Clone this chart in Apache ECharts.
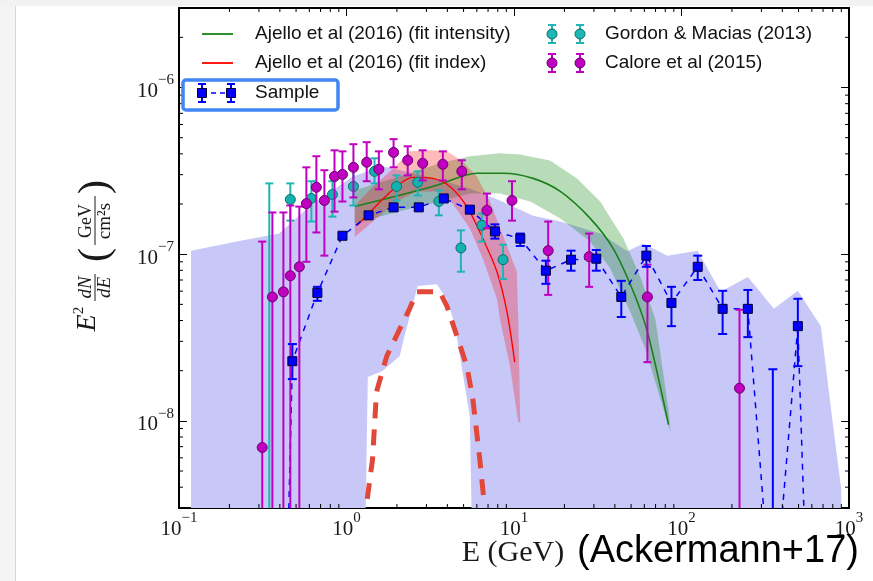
<!DOCTYPE html>
<html>
<head>
<meta charset="utf-8">
<script src="https://cdn.jsdelivr.net/npm/echarts@6/dist/echarts.min.js"></script>
<style>
  html, body { margin: 0; padding: 0; background: #fff; }
  #chart { width: 873px; height: 581px; }
</style>
</head>
<body>
<div id="chart"></div>
<script>
// ---------------- data ----------------
const xMinor = [];
[0.1, 1, 10, 100].forEach(d => { for (let k = 2; k <= 9; k++) xMinor.push(k * d); });
const yMinor = [4e-9, 5e-9, 6e-9, 7e-9, 8e-9, 9e-9,
  2e-8, 3e-8, 4e-8, 5e-8, 6e-8, 7e-8, 8e-8, 9e-8,
  2e-7, 3e-7, 4e-7, 5e-7, 6e-7, 7e-7, 8e-7, 9e-7, 2e-6];

// Sample (blue squares); values far below the axis run off the bottom
const sampleE    = [0.336, 0.475, 0.67, 0.946, 1.355, 1.91, 2.70, 3.81, 5.45, 7.69, 10.9, 15.5, 21.9, 31.0, 43.7, 61.7, 87.1, 125, 176, 249, 351, 495, 699];
const sampleFlux = [1e-14, 2.28e-8, 5.86e-8, 1.29e-7, 1.71e-7, 1.91e-7, 1.91e-7, 2.16e-7, 1.85e-7, 1.37e-7, 1.24e-7, 7.96e-8, 9.27e-8, 9.4e-8, 5.54e-8, 9.8e-8, 5.1e-8, 8.4e-8, 4.7e-8, 4.7e-8, 6e-10, 3.7e-8, 1e-12];
const sampleLo   = [null, 1.78e-8, 5.25e-8, 1.25e-7, 1.66e-7, 1.86e-7, 1.86e-7, 2.1e-7, 1.8e-7, 1.24e-7, 1.12e-7, 6.64e-8, 7.96e-8, 7.96e-8, 4.2e-8, 8.4e-8, 3.7e-8, 7.0e-8, 3.32e-8, 3.18e-8, 1e-12, 2.13e-8, null];
const sampleHi   = [null, 2.89e-8, 6.37e-8, 1.33e-7, 1.76e-7, 1.96e-7, 1.96e-7, 2.22e-7, 1.9e-7, 1.51e-7, 1.33e-7, 9.14e-8, 1.05e-7, 1.06e-7, 6.92e-8, 1.12e-7, 6.37e-8, 9.8e-8, 6.03e-8, 6.1e-8, 2.04e-8, 5.4e-8, null];

// Gordon & Macias (2013)
const gordonE    = [0.346, 0.462, 0.617, 0.824, 1.10, 1.47, 1.99, 2.66, 3.56, 4.82, 6.43, 8.60];
const gordonFlux = [1e-12, 2.13e-7, 2.16e-7, 2.28e-7, 2.55e-7, 3.14e-7, 2.55e-7, 2.7e-7, 2.07e-7, 1.09e-7, 1.49e-7, 9.27e-8];
const gordonLo   = [1e-12, 1.59e-7, 1.57e-7, 1.68e-7, 1.96e-7, 2.66e-7, 2.1e-7, 2.25e-7, 1.71e-7, 7.85e-8, 1.19e-7, 7.1e-8];
const gordonHi   = [2.66e-7, 2.66e-7, 2.74e-7, 2.74e-7, 3.27e-7, 3.76e-7, 2.97e-7, 3.14e-7, 2.42e-7, 1.39e-7, 1.75e-7, 1.14e-7];

// Calore et al (2015)
const caloreE    = [0.314, 0.361, 0.42, 0.462, 0.523, 0.576, 0.661, 0.738, 0.848, 0.946, 1.10, 1.32, 1.56, 1.91, 2.32, 2.85, 3.76, 4.88, 6.89, 9.73, 16.0, 28.1, 62.6, 222];
const caloreFlux = [6.92e-9, 5.54e-8, 5.94e-8, 7.42e-8, 8.4e-8, 2.01e-7, 2.52e-7, 2.1e-7, 2.93e-7, 3.01e-7, 3.32e-7, 3.56e-7, 3.23e-7, 4.08e-7, 3.66e-7, 3.51e-7, 3.46e-7, 3.14e-7, 1.83e-7, 2.1e-7, 1.05e-7, 9.66e-8, 5.54e-8, 1.57e-8];
const caloreLo   = [1e-12, 1e-12, 1e-12, 1e-12, 1e-12, 9.0e-8, 1.35e-7, 9.8e-8, 1.8e-7, 2.07e-7, 2.19e-7, 2.74e-7, 2.45e-7, 3.32e-7, 2.97e-7, 2.77e-7, 2.77e-7, 2.45e-7, 1.43e-7, 1.59e-7, 5.7e-8, 6.37e-8, 2.25e-8, 1e-12];
const caloreHi   = [1.19e-7, 1.78e-7, 1.78e-7, 1.96e-7, 1.93e-7, 3.32e-7, 3.87e-7, 3.19e-7, 4.2e-7, 4.14e-7, 4.57e-7, 4.7e-7, 4.14e-7, 4.9e-7, 4.44e-7, 4.2e-7, 4.14e-7, 3.66e-7, 2.31e-7, 2.74e-7, 1.57e-7, 1.33e-7, 8.65e-8, 4.64e-8];

// Ajello et al (2016) fit intensity (green) and its band
const fitIntE    = [1.12, 2.16, 3.46, 6.0, 8.6, 13, 18.9, 28.5, 39.1, 51.6, 62.6, 83.6];
const fitIntFlux = [1.93e-7, 2.28e-7, 2.59e-7, 3.06e-7, 3.06e-7, 2.85e-7, 2.38e-7, 1.64e-7, 1.08e-7, 5.95e-8, 3.41e-8, 9.5e-9];
const fitIntUpper = [[1.12, 2.42e-7], [2.16, 2.97e-7], [3.6, 3.51e-7], [5.45, 3.87e-7], [8.24, 4.03e-7], [10.9, 3.97e-7], [16.4, 3.65e-7], [23.8, 2.85e-7], [32.7, 2.07e-7], [45, 1.24e-7], [56.8, 7.3e-8], [69.8, 4.08e-8], [83.6, 1.17e-8], [86, 8.5e-9]];
const fitIntLower = [[1.12, 1.53e-7], [2.16, 1.83e-7], [3.6, 2.07e-7], [5.45, 2.31e-7], [8.24, 2.31e-7], [12.5, 2.07e-7], [18.9, 1.64e-7], [28.5, 1.19e-7], [37.6, 8.2e-8], [49.5, 4.5e-8], [60.9, 2.7e-8], [86, 8.5e-9]];

// Ajello et al (2016) fit index (red) and its band
const fitIdxE    = [1.16, 1.51, 1.99, 2.48, 3.27, 4.14, 5.23, 6.52, 7.91, 9.08, 10.1];
const fitIdxFlux = [1.49e-7, 1.96e-7, 2.55e-7, 2.89e-7, 2.85e-7, 2.55e-7, 1.93e-7, 1.24e-7, 7.85e-8, 4.5e-8, 2.25e-8];
const fitIdxUpper = [[1.12, 1.96e-7], [1.37, 2.42e-7], [1.99, 3.41e-7], [2.38, 4.14e-7], [3.14, 4.2e-7], [3.97, 4.14e-7], [4.95, 3.6e-7], [6.0, 2.93e-7], [7.18, 2.07e-7], [8.6, 1.29e-7], [10.4, 7.85e-8], [10.6, 4.08e-8], [10.9, 9.8e-9]];
const fitIdxLower = [[1.12, 1.27e-7], [1.51, 1.64e-7], [1.99, 2.07e-7], [2.63, 2.38e-7], [3.46, 2.38e-7], [4.31, 2.01e-7], [5.45, 1.43e-7], [6.52, 9.4e-8], [7.91, 5.4e-8], [8.24, 4.08e-8], [9.46, 2.13e-8], [10.6, 9.8e-9]];

// lavender background region
const bgUpper = [[0.118, 1.05e-7], [0.229, 1.2e-7], [0.397, 1.33e-7], [0.6, 1.93e-7], [1.09, 2.93e-7], [1.64, 3.37e-7], [3.14, 2.9e-7], [5.45, 2.48e-7], [8.24, 2.1e-7], [13, 1.7e-7], [18.9, 1.57e-7], [32.7, 1.33e-7], [47.5, 1.04e-7], [59.2, 1.16e-7], [82.4, 9.8e-8], [125, 1.05e-7], [143, 8.2e-8], [171, 5.95e-8], [249, 7.3e-8], [356, 4.7e-8], [495, 6.03e-8], [679, 3.7e-8], [813, 8.5e-9], [896, 4.0e-9], [930, 1e-9]];
const bgLower = [[0.118, 1e-9], [1.28, 1e-9], [1.34, 1.83e-8], [1.64, 1.99e-8], [2.08, 2.45e-8], [2.22, 3.23e-8], [2.66, 6.45e-8], [3.46, 6.6e-8], [3.97, 5.4e-8], [4.43, 3.8e-8], [5.45, 1.06e-8], [5.68, 1e-9], [930, 1e-9]];

// thick dashed red curve
const dashE    = [1.33, 1.43, 1.51, 1.74, 2.08, 2.38, 2.63, 3.6, 3.97, 4.56, 5.23, 5.68, 6.25, 6.6];
const dashFlux = [3.4e-9, 5.86e-9, 1.49e-8, 2.45e-8, 3.56e-8, 4.7e-8, 5.95e-8, 5.95e-8, 4.9e-8, 3.23e-8, 2.13e-8, 1.35e-8, 5.86e-9, 3.4e-9];

// ---------------- helpers ----------------
const SERIF = '"Liberation Serif", "DejaVu Serif", serif';
const SANS = '"Liberation Sans", Arial, sans-serif';
const pairs = (xs, ys) => xs.map((x, i) => [x, ys[i]]);

function bandSeries(upper, lower, color, z) {
  return {
    type: 'custom', clip: true, silent: true, z,
    data: [[1, 1e-7]],
    renderItem: (params, api) => ({
      type: 'polygon',
      shape: { points: upper.concat(lower.slice().reverse()).map(p => api.coord(p)) },
      style: { fill: color }
    })
  };
}

function errSeries(E, lo, hi, color, cap, width, z) {
  const data = [];
  E.forEach((e, i) => { if (lo[i] != null) data.push([e, lo[i], hi[i]]); });
  return {
    type: 'custom', clip: true, silent: true, z,
    data,
    renderItem: (params, api) => {
      const top = api.coord([api.value(0), api.value(2)]);
      const bot = api.coord([api.value(0), api.value(1)]);
      const st = { stroke: color, lineWidth: width };
      return {
        type: 'group', children: [
          { type: 'line', shape: { x1: top[0], y1: top[1], x2: bot[0], y2: bot[1] }, style: st },
          { type: 'line', shape: { x1: top[0] - cap, y1: top[1], x2: top[0] + cap, y2: top[1] }, style: st },
          { type: 'line', shape: { x1: bot[0] - cap, y1: bot[1], x2: bot[0] + cap, y2: bot[1] }, style: st }
        ]
      };
    }
  };
}

function expLabel(v) {
  const e = Math.log10(v);
  if (Math.abs(e - Math.round(e)) > 1e-6) return '';
  const n = Math.round(e);
  return '{b|10}{s|' + (n < 0 ? '\u2212' + (-n) : n) + '}';
}
const labelRich = {
  b: { fontFamily: SERIF, fontSize: 21, color: '#1a1a1a', padding: [8, 0, 0, 0] },
  s: { fontFamily: SERIF, fontSize: 15, color: '#1a1a1a', verticalAlign: 'top' }
};
const axisLineStyle = { show: true, lineStyle: { color: '#000', width: 2 } };

const chart = echarts.init(document.getElementById('chart'));

const legendZ = 100;
const legendText = (text, x, y) => ({
  type: 'text', z: legendZ,
  style: { text, x, y, font: '19px ' + SANS, fill: '#111', textAlign: 'left', textVerticalAlign: 'middle', align: 'left', verticalAlign: 'middle' }
});
const lLine = (x1, y1, x2, y2, stroke, lineWidth, dash) => ({
  type: 'line', z: legendZ, shape: { x1, y1, x2, y2 }, style: { stroke, lineWidth, lineDash: dash || null }
});
function legendErrPair(xs, y, color, edge, kind) {
  const out = [];
  xs.forEach(x => {
    out.push(lLine(x, y - 9, x, y + 9, color, 2));
    out.push(lLine(x - 4, y - 9, x + 4, y - 9, color, 2));
    out.push(lLine(x - 4, y + 9, x + 4, y + 9, color, 2));
    if (kind === 'rect') {
      out.push({ type: 'rect', z: legendZ + 1, shape: { x: x - 4.5, y: y - 4.5, width: 9, height: 9 }, style: { fill: color, stroke: edge, lineWidth: 1 } });
    } else {
      out.push({ type: 'circle', z: legendZ + 1, shape: { cx: x, cy: y, r: 5 }, style: { fill: color, stroke: edge, lineWidth: 1 } });
    }
  });
  return out;
}

const yTitleInk = '#1a1a1a';
const yText = (text, x, y, font) => ({
  type: 'text', style: { text, x, y, font, fill: yTitleInk, textAlign: 'center', textVerticalAlign: 'middle' }
});
const yTitle = {
  type: 'group', x: 97, y: 333, rotation: Math.PI / 2, z: legendZ,
  children: [
    yText('E', 10, -9, 'italic 28px ' + SERIF),
    yText('2', 22.5, -18, '15px ' + SERIF),
    yText('dN', 45.5, -11, 'italic 19px ' + SERIF),
    { type: 'line', shape: { x1: 32, y1: -2, x2: 59, y2: -2 }, style: { stroke: yTitleInk, lineWidth: 1 } },
    yText('dE', 45.5, 8, 'italic 19px ' + SERIF),
    yText('(', 78, -1, '42px ' + SERIF),
    yText('GeV', 112, -11, '18px ' + SERIF),
    { type: 'line', shape: { x1: 88, y1: -2, x2: 137, y2: -2 }, style: { stroke: yTitleInk, lineWidth: 1 } },
    yText('cm\u00b2s', 112, 8, '19px ' + SERIF),
    yText(')', 146, -1, '42px ' + SERIF)
  ]
};

const graphic = [
  // slide edges
  { type: 'rect', z: -1, shape: { x: 0, y: 0, width: 15, height: 581 }, style: { fill: '#f4f4f4' } },
  { type: 'line', z: -1, shape: { x1: 15.5, y1: 0, x2: 15.5, y2: 581 }, style: { stroke: '#d6d6d6', lineWidth: 1 } },
  { type: 'rect', z: -1, shape: { x: 0, y: 0, width: 873, height: 6 }, style: { fill: '#f2f2f2' } },
  yTitle,
  { type: 'text', z: legendZ, style: { text: 'E (GeV)', x: 513, y: 553, font: '30px ' + SERIF, fill: '#1a1a1a', textAlign: 'center', textVerticalAlign: 'middle' } },
  { type: 'text', z: legendZ, style: { text: '(Ackermann+17)', x: 577, y: 552, font: '38px ' + SANS, fill: '#000', textAlign: 'left', textVerticalAlign: 'middle' } },
  // legend
  lLine(202, 34, 233, 34, '#1a801a', 1.8),
  legendText('Ajello et al (2016) (fit intensity)', 255, 34),
  lLine(202, 63, 233, 63, '#ff0000', 1.8),
  legendText('Ajello et al (2016) (fit index)', 255, 63),
  { type: 'rect', z: legendZ, shape: { x: 183, y: 80, width: 155, height: 30, r: 3 }, style: { fill: '#fff', stroke: '#4285f4', lineWidth: 3.5 } },
  lLine(202, 93, 231, 93, '#0000ff', 1.6, [5, 4]),
  ...legendErrPair([202, 231], 93, '#0000ff', '#000033', 'rect'),
  legendText('Sample', 255, 93),
  ...legendErrPair([552, 580], 34, '#1fb5b5', '#0a6e6e', 'circle'),
  legendText('Gordon & Macias (2013)', 605, 34),
  ...legendErrPair([552, 580], 63, '#c000c0', '#6a006a', 'circle'),
  legendText('Calore et al (2015)', 605, 63)
];

const option = {
  animation: false,
  backgroundColor: '#fff',
  grid: { left: 179, right: 24, top: 8, bottom: 73, containLabel: false, outerBoundsMode: 'none' },
  xAxis: [
    {
      type: 'log', logBase: 10, min: 0.1, max: 1000, position: 'bottom',
      axisLine: axisLineStyle, splitLine: { show: false },
      axisTick: { inside: true, length: 8, lineStyle: { color: '#000', width: 1 } },
      axisLabel: { margin: 3, formatter: expLabel, rich: labelRich, showMinLabel: true, showMaxLabel: true }
    },
    {
      type: 'log', logBase: 10, min: 0.1, max: 1000, position: 'top',
      axisLine: axisLineStyle, splitLine: { show: false },
      axisTick: { inside: true, length: 8, lineStyle: { color: '#000', width: 1 } },
      axisLabel: { show: false }
    }
  ],
  yAxis: [
    {
      type: 'log', logBase: 10, min: 3e-9, max: 3e-6, position: 'left',
      axisLine: axisLineStyle, splitLine: { show: false },
      axisTick: { inside: true, length: 8, lineStyle: { color: '#000', width: 1 } },
      axisLabel: { margin: 5, formatter: expLabel, rich: labelRich }
    },
    {
      type: 'log', logBase: 10, min: 3e-9, max: 3e-6, position: 'right',
      axisLine: axisLineStyle, splitLine: { show: false },
      axisTick: { inside: true, length: 8, lineStyle: { color: '#000', width: 1 } },
      axisLabel: { show: false }
    }
  ],
  graphic,
  series: [
    bandSeries(bgUpper, bgLower, 'rgb(199,199,248)', 1),
    {
      type: 'line', data: pairs(dashE, dashFlux), showSymbol: false, z: 2, silent: true,
      lineStyle: { color: '#e2483a', width: 5, type: [16, 11] }
    },
    bandSeries(fitIntUpper, fitIntLower, 'rgba(0,128,0,0.28)', 3),
    bandSeries(fitIdxUpper, fitIdxLower, 'rgba(255,0,0,0.27)', 3),
    {
      type: 'line', data: pairs(fitIntE, fitIntFlux), showSymbol: false, smooth: 0.3, z: 4, silent: true,
      lineStyle: { color: '#1a801a', width: 1.6 }
    },
    {
      type: 'line', data: pairs(fitIdxE, fitIdxFlux), showSymbol: false, smooth: 0.3, z: 4, silent: true,
      lineStyle: { color: '#ff0000', width: 1.4 }
    },
    {
      type: 'line', data: pairs(sampleE, sampleFlux), showSymbol: false, z: 5, silent: true,
      lineStyle: { color: '#0000ff', width: 1.5, type: [6, 6] }
    },
    errSeries(gordonE, gordonLo, gordonHi, '#1fb5b5', 4, 2, 6),
    {
      type: 'scatter', data: pairs(gordonE, gordonFlux), symbol: 'circle', symbolSize: 10, z: 6, silent: true,
      itemStyle: { color: '#15b0b0', borderColor: '#0a6e6e', borderWidth: 1, opacity: 1 }
    },
    errSeries(caloreE, caloreLo, caloreHi, '#c000c0', 4, 2, 7),
    {
      type: 'scatter', data: pairs(caloreE, caloreFlux), symbol: 'circle', symbolSize: 10, z: 7, silent: true,
      itemStyle: { color: '#c000c0', borderColor: '#6a006a', borderWidth: 1, opacity: 1 }
    },
    errSeries(sampleE, sampleLo, sampleHi, '#0000ff', 4.5, 2, 8),
    {
      type: 'scatter', data: pairs(sampleE, sampleFlux), symbol: 'rect', symbolSize: 9, z: 8, silent: true,
      itemStyle: { color: '#0000ff', borderColor: '#000033', borderWidth: 1, opacity: 1 }
    },
    {
      type: 'custom', silent: true, clip: false, z: 9,
      data: xMinor.map(v => [v, 1e-7]),
      renderItem: (params, api) => {
        const cs = params.coordSys;
        const x = api.coord([api.value(0), api.value(1)])[0];
        const st = { stroke: '#000', lineWidth: 1 };
        return {
          type: 'group', children: [
            { type: 'line', shape: { x1: x, y1: cs.y + cs.height, x2: x, y2: cs.y + cs.height - 4 }, style: st },
            { type: 'line', shape: { x1: x, y1: cs.y, x2: x, y2: cs.y + 4 }, style: st }
          ]
        };
      }
    },
    {
      type: 'custom', silent: true, clip: false, z: 9,
      data: yMinor.map(v => [1, v]),
      renderItem: (params, api) => {
        const cs = params.coordSys;
        const y = api.coord([api.value(0), api.value(1)])[1];
        const st = { stroke: '#000', lineWidth: 1 };
        return {
          type: 'group', children: [
            { type: 'line', shape: { x1: cs.x, y1: y, x2: cs.x + 4, y2: y }, style: st },
            { type: 'line', shape: { x1: cs.x + cs.width, y1: y, x2: cs.x + cs.width - 4, y2: y }, style: st }
          ]
        };
      }
    }
  ]
};

chart.setOption(option);
</script>
</body>
</html>
